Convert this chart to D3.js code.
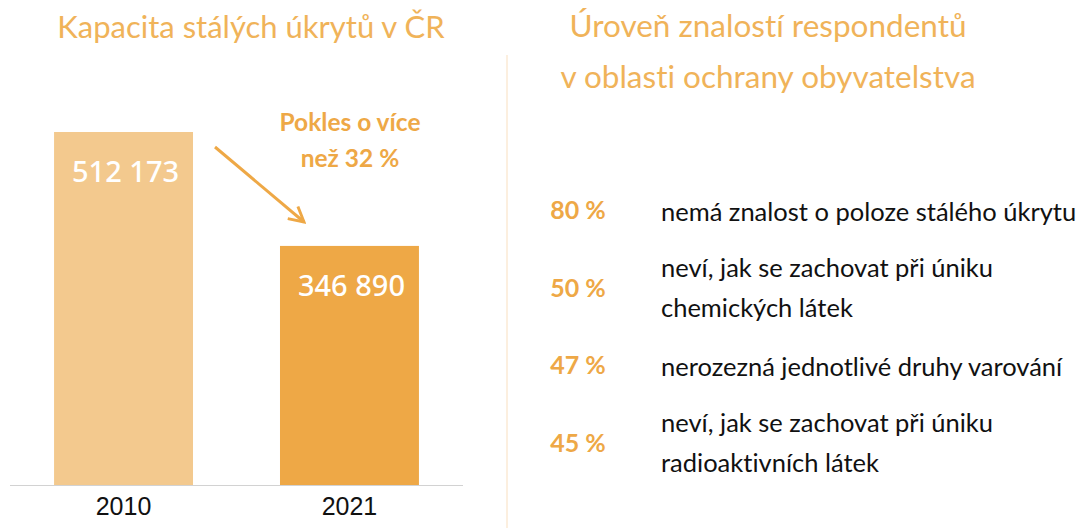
<!DOCTYPE html>
<html>
<head>
<meta charset="utf-8">
<script src="https://cdn.jsdelivr.net/npm/d3@7"></script>
<style>
  body { margin: 0; background: #fff; }
  svg { display: block; }
  text { font-variant-ligatures: none; }
</style>
</head>
<body>
<svg width="1081" height="528"></svg>
<script>
// ---- data
const years = ['2010', '2021'];
const capacity = [512173, 346890];
const capacityLabels = ['512 173', '346 890'];
const changeNote = ['Pokles o více', 'než 32 %'];

const leftTitle = 'Kapacita stálých úkrytů v ČR';
const rightTitle = ['Úroveň znalostí respondentů', 'v oblasti ochrany obyvatelstva'];

const shares = ['80 %', '50 %', '47 %', '45 %'];
const shareTexts = [
    ['nemá znalost o poloze stálého úkrytu'],
    ['neví, jak se zachovat při úniku', 'chemických látek'],
    ['nerozezná jednotlivé druhy varování'],
    ['neví, jak se zachovat při úniku', 'radioaktivních látek']
];

const barColors = ['#f3c98e', '#eea846'];
const orange = '#eea846';
const titleColor = '#f0b359';
const bodyFont = 'Lato, "Open Sans", sans-serif';

const svg = d3.select('svg');

// ---- separator
svg.append('line')
    .attr('x1', 507).attr('x2', 507)
    .attr('y1', 55).attr('y2', 528)
    .attr('stroke', '#fcefdf')
    .attr('stroke-width', 2);

// ---- left: bar chart
const mapX = d3.scaleBand()
    .domain(years)
    .range([10, 463])
    .paddingInner(0.385)
    .paddingOuter(0.195);

const mapY = d3.scaleLinear()
    .domain([0, d3.max(capacity)])
    .range([485, 132]);

svg.append('text')
    .attr('x', 251)
    .attr('y', 38)
    .attr('text-anchor', 'middle')
    .style('font-family', bodyFont)
    .style('font-size', '31px')
    .style('fill', titleColor)
    .text(leftTitle);

const bars = svg.append('g').attr('id', 'bars');

bars.selectAll('rect')
    .data(years)
    .join('rect')
    .attr('x', d => mapX(d))
    .attr('y', (d, i) => mapY(capacity[i]))
    .attr('width', mapX.bandwidth())
    .attr('height', (d, i) => mapY(0) - mapY(capacity[i]))
    .attr('fill', (d, i) => barColors[i]);

bars.selectAll('text')
    .data(years)
    .join('text')
    .attr('x', d => mapX(d) + mapX.bandwidth() / 2 + 2)
    .attr('y', (d, i) => mapY(capacity[i]) + 50)
    .attr('text-anchor', 'middle')
    .style('font-family', '"Noto Sans", sans-serif')
    .style('font-weight', 500)
    .style('font-size', '29px')
    .style('fill', '#fff')
    .text((d, i) => capacityLabels[i]);

// x axis
const xAxis = svg.append('g')
    .attr('id', 'axisX')
    .attr('transform', `translate(0, ${mapY(0)})`)
    .call(d3.axisBottom(mapX).tickSize(0).tickPadding(10));

xAxis.select('.domain')
    .attr('d', 'M10,0.5H463')
    .attr('stroke', '#d2d2d2')
    .attr('stroke-width', 1.2);

xAxis.selectAll('.tick text')
    .attr('dy', 0)
    .attr('y', 30)
    .style('font-family', '"Liberation Sans", Arial, sans-serif')
    .style('font-size', '25px')
    .style('fill', '#111');

// arrow + note
const defs = svg.append('defs');
defs.append('marker')
    .attr('id', 'head')
    .attr('viewBox', '0 0 16 16')
    .attr('refX', 14).attr('refY', 8)
    .attr('markerWidth', 18).attr('markerHeight', 18)
    .attr('markerUnits', 'userSpaceOnUse')
    .attr('orient', 'auto')
    .append('path')
    .attr('d', 'M1,1L14,8L1,15')
    .attr('fill', 'none')
    .attr('stroke', orange)
    .attr('stroke-width', 2.6);

svg.append('line')
    .attr('x1', 215).attr('y1', 147)
    .attr('x2', 304).attr('y2', 222)
    .attr('stroke', orange)
    .attr('stroke-width', 3)
    .attr('marker-end', 'url(#head)');

svg.append('g')
    .selectAll('text')
    .data(changeNote)
    .join('text')
    .attr('x', 350)
    .attr('y', (d, i) => 131 + i * 36)
    .attr('text-anchor', 'middle')
    .style('font-family', bodyFont)
    .style('font-weight', 700)
    .style('font-size', '24.5px')
    .style('fill', orange)
    .text(d => d);

// ---- right: survey
svg.append('g')
    .selectAll('text')
    .data(rightTitle)
    .join('text')
    .attr('x', 768)
    .attr('y', (d, i) => 37 + i * 51)
    .attr('text-anchor', 'middle')
    .style('font-family', bodyFont)
    .style('font-size', '31.5px')
    .style('fill', titleColor)
    .text(d => d);

const rowY = d3.scalePoint()
    .domain(d3.range(shares.length))
    .range([219, 452]);

const rows = svg.append('g')
    .selectAll('g')
    .data(shares)
    .join('g')
    .attr('transform', (d, i) => `translate(0, ${rowY(i)})`);

rows.append('text')
    .attr('x', 578)
    .attr('text-anchor', 'middle')
    .style('font-family', bodyFont)
    .style('font-weight', 700)
    .style('font-size', '25px')
    .style('fill', orange)
    .text(d => d);

rows.each(function (d, i) {
    const lines = shareTexts[i];
    const start = lines.length > 1 ? -20 : 2;
    d3.select(this).selectAll('text.line')
        .data(lines)
        .join('text')
        .attr('class', 'line')
        .attr('x', 661)
        .attr('y', (t, j) => start + j * 40)
        .style('font-family', bodyFont)
        .style('font-size', '25.5px')
        .style('fill', '#111')
        .text(t => t);
});
</script>
</body>
</html>
